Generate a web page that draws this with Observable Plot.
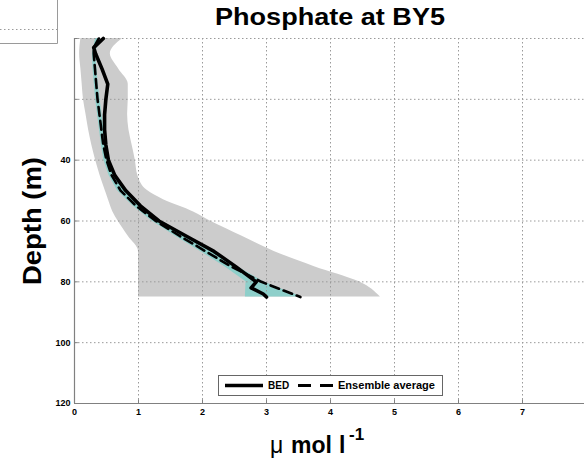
<!DOCTYPE html>
<html>
<head>
<meta charset="utf-8">
<script src="https://cdn.jsdelivr.net/npm/d3@7"></script>
<script src="https://cdn.jsdelivr.net/npm/@observablehq/plot@0.6"></script>
<style>
  html, body { margin: 0; padding: 0; background: #fff; }
  #chart { width: 584px; height: 460px; overflow: hidden; position: relative; }
  svg { overflow: hidden; }
</style>
</head>
<body>
<div id="chart"></div>
<script>
// ---- data ----
const titleText = "Phosphate at BY5";
const xTicks = [0, 1, 2, 3, 4, 5, 6, 7];
const yTicks = [0, 20, 40, 60, 80, 100, 120];
const yTickLabels = ["", "", "40", "60", "80", "100", "120"];

// grey envelope (ensemble min / max)
const envDepth = [0, 5, 10, 15, 20, 25, 30, 35, 40, 45, 50, 53, 57, 60, 65, 70, 75, 80, 85];
const envMin   = [0.10, 0.08, 0.10, 0.12, 0.14, 0.18, 0.22, 0.27, 0.33, 0.40, 0.48, 0.53, 0.60, 0.68, 0.84, 1.00, 1.00, 1.00, 1.00];
const envMax   = [0.75, 0.56, 0.69, 0.84, 0.84, 0.83, 0.85, 0.90, 0.95, 0.99, 1.14, 1.39, 1.86, 2.12, 2.62, 3.12, 3.75, 4.45, 4.78];

// cyan spread band
const bandDepth = [0, 5, 10, 15, 20, 25, 30, 35, 40, 45, 50, 55, 60, 65, 70, 75, 80, 85];
const bandLo    = [0.33, 0.28, 0.29, 0.31, 0.33, 0.36, 0.39, 0.42, 0.46, 0.54, 0.67, 0.91, 1.21, 1.58, 1.97, 2.35, 2.68, 2.67];
const bandHi    = [0.39, 0.33, 0.35, 0.37, 0.40, 0.43, 0.46, 0.50, 0.55, 0.63, 0.78, 1.03, 1.34, 1.73, 2.13, 2.55, 2.95, 3.55];

// BED profile
const bedDepth = [0, 3, 5, 10, 15, 20, 25, 30, 35, 40, 45, 50, 55, 60, 65, 70, 75, 80, 82, 84, 85];
const bedVal   = [0.45, 0.30, 0.33, 0.43, 0.52, 0.49, 0.47, 0.47, 0.49, 0.53, 0.63, 0.80, 1.03, 1.32, 1.75, 2.18, 2.52, 2.84, 2.76, 2.95, 3.00];

// Ensemble average profile
const ensDepth = [0, 3, 5, 10, 15, 20, 25, 30, 35, 40, 45, 50, 55, 60, 65, 70, 75, 80, 85];
const ensVal   = [0.38, 0.30, 0.30, 0.32, 0.34, 0.36, 0.39, 0.42, 0.45, 0.50, 0.58, 0.72, 0.96, 1.27, 1.65, 2.05, 2.45, 2.92, 3.53];

const legendLabels = ["BED", "Ensemble average"];

// ---- tables ----
const env = envDepth.map((d, i) => ({depth: d, lo: envMin[i], hi: envMax[i]}));
const band = bandDepth.map((d, i) => ({depth: d, lo: bandLo[i], hi: bandHi[i]}));
const bed = bedDepth.map((d, i) => ({depth: d, v: bedVal[i]}));
const ens = ensDepth.map((d, i) => ({depth: d, v: ensVal[i]}));

const FONT = "'Liberation Sans', Arial, Helvetica, sans-serif";
const gridColor = "#9a9a9a";
const axisColor = "#808080";

const plot = Plot.plot({
  width: 584,
  height: 460,
  marginLeft: 74,
  marginTop: 38,
  marginRight: 0,
  marginBottom: 57,
  style: {fontFamily: FONT, fontSize: "9px", background: "#fff", overflow: "hidden"},
  x: {domain: [0, 8], range: [74, 586]},
  y: {domain: [0, 120], range: [38, 403]},
  marks: [
    Plot.areaX(env, {y: "depth", x1: "lo", x2: "hi", fill: "#cccccc", curve: "monotone-y"}),
    Plot.areaX(band, {y: "depth", x1: "lo", x2: "hi", fill: "#8ecfca"}),
    Plot.gridX(xTicks.slice(1), {stroke: gridColor, strokeOpacity: 1, strokeWidth: 1, strokeDasharray: "1.5,2.5"}),
    Plot.gridY(yTicks.slice(0, -1), {stroke: gridColor, strokeOpacity: 1, strokeWidth: 1, strokeDasharray: "1.5,2.5"}),
    Plot.ruleX(xTicks, {x: d => d, y1: 120, y2: 118.8, stroke: axisColor}),
    Plot.ruleY(yTicks, {y: d => d, x1: 0, x2: 0.06, stroke: axisColor}),
    Plot.ruleX([0], {stroke: axisColor, strokeWidth: 1.2}),
    Plot.ruleY([120], {stroke: axisColor, strokeWidth: 1.2}),
    Plot.line(ens, {x: "v", y: "depth", stroke: "#000", strokeWidth: 2.6, strokeDasharray: "9,5", curve: "linear"}),
    Plot.line(bed, {x: "v", y: "depth", stroke: "#000", strokeWidth: 3.6, curve: "linear"}),
    Plot.axisX({ticks: xTicks, tickSize: 0, tickPadding: 5, fontWeight: "bold", fontSize: 9, label: null, anchor: "bottom", fill: "#000"}),
    Plot.axisY({ticks: yTicks, tickSize: 0, tickPadding: 4, fontWeight: "bold", fontSize: 9, label: null, anchor: "left", fill: "#000",
                tickFormat: d => yTickLabels[yTicks.indexOf(d)]})
  ]
});

document.getElementById("chart").appendChild(plot);

// ---- decorations: title, axis labels, legend, stray panel corner ----
const svg = d3.select(plot);

// stray neighbouring-panel corner in the top-left
const corner = svg.append("g").attr("stroke", "#9a9a9a").attr("fill", "none");
corner.append("line").attr("x1", 57.5).attr("x2", 57.5).attr("y1", 0).attr("y2", 43.5);
corner.append("line").attr("x1", 0).attr("x2", 57.5).attr("y1", 43.5).attr("y2", 43.5);
corner.append("line").attr("x1", 0).attr("x2", 57).attr("y1", 29.5).attr("y2", 29.5).attr("stroke-dasharray", "1.5,2.5");

svg.append("text")
  .attr("x", 215).attr("y", 25)
  .attr("text-anchor", "start")
  .attr("font-family", FONT).attr("font-size", 23).attr("font-weight", "bold")
  .attr("textLength", 230).attr("lengthAdjust", "spacingAndGlyphs")
  .attr("fill", "#000")
  .text(titleText);

svg.append("text")
  .attr("transform", "translate(41,221) rotate(-90)")
  .attr("text-anchor", "middle")
  .attr("font-family", FONT).attr("font-size", 25).attr("font-weight", "bold")
  .attr("textLength", 128).attr("lengthAdjust", "spacingAndGlyphs")
  .attr("fill", "#000")
  .text("Depth (m)");

const xl = svg.append("text")
  .attr("text-anchor", "start")
  .attr("font-family", FONT).attr("fill", "#000");
xl.append("tspan").attr("x", 270).attr("y", 453).attr("font-size", 23).text("\u03bc");
xl.append("tspan").attr("x", 291).attr("y", 453).attr("font-size", 23).attr("font-weight", "bold").text("mol");
xl.append("tspan").attr("x", 339).attr("y", 453).attr("font-size", 23).attr("font-weight", "bold").text("l");
xl.append("tspan").attr("x", 349).attr("y", 440).attr("font-size", 17).attr("font-weight", "bold").text("-1");

// legend
const lg = svg.append("g").attr("text-anchor", "start");
lg.append("rect").attr("x", 218.5).attr("y", 375.5).attr("width", 224).attr("height", 20)
  .attr("fill", "#fff").attr("stroke", "#666").attr("stroke-width", 1);
lg.append("line").attr("x1", 225).attr("x2", 263).attr("y1", 385.5).attr("y2", 385.5)
  .attr("stroke", "#000").attr("stroke-width", 3.6);
lg.append("text").attr("x", 268).attr("y", 389).attr("text-anchor", "start").attr("font-family", FONT).attr("font-size", 10)
  .attr("font-weight", "bold").attr("fill", "#000").text(legendLabels[0]);
lg.append("line").attr("x1", 298).attr("x2", 334).attr("y1", 385.5).attr("y2", 385.5)
  .attr("stroke", "#000").attr("stroke-width", 3).attr("stroke-dasharray", "13,9");
lg.append("text").attr("x", 338).attr("y", 389).attr("text-anchor", "start").attr("font-family", FONT).attr("font-size", 10)
  .attr("font-weight", "bold").attr("fill", "#000")
  .attr("textLength", 97).attr("lengthAdjust", "spacingAndGlyphs").text(legendLabels[1]);
</script>
</body>
</html>
